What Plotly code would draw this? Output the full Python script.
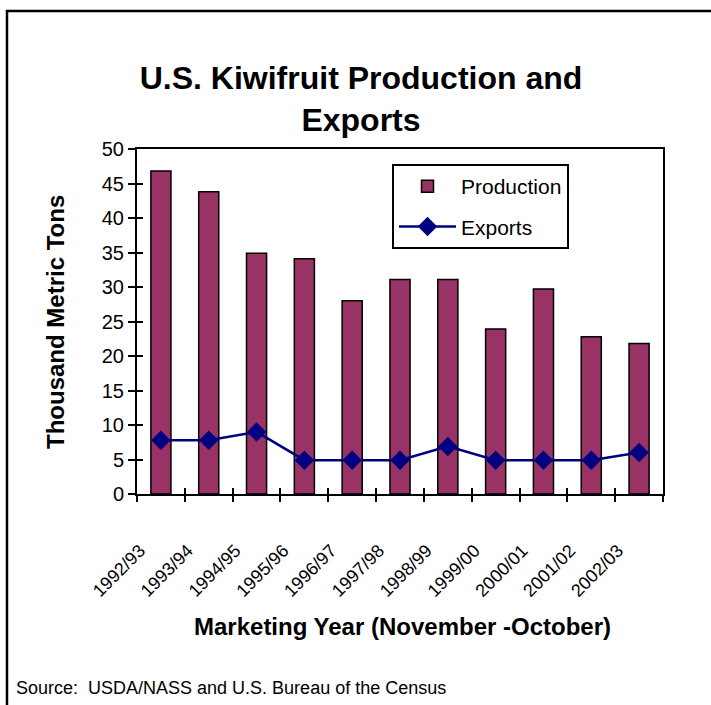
import plotly.graph_objects as go

years = ["1992/93", "1993/94", "1994/95", "1995/96", "1996/97", "1997/98",
         "1998/99", "1999/00", "2000/01", "2001/02", "2002/03"]
production = [46.8, 43.8, 34.9, 34.1, 28.0, 31.1, 31.1, 23.9, 29.7, 22.8, 21.8]
exports = [7.8, 7.8, 9.0, 4.9, 4.9, 4.9, 6.9, 4.9, 4.9, 4.9, 6.0]
y_ticks = [0, 5, 10, 15, 20, 25, 30, 35, 40, 45, 50]

FONT = "Arial, Liberation Sans, sans-serif"
W, H = 711, 705
L, R, T, B = 137, 48, 149, 211
PW, PH = W - L - R, H - T - B


def px(x):
    return (x - L) / PW


def py(y):
    return (H - B - y) / PH


fig = go.Figure()
fig.add_trace(go.Bar(
    x=years, y=production, name="Production",
    marker=dict(color="#993366", line=dict(color="black", width=1.5)),
    legendgroup="a",
))
fig.add_trace(go.Scatter(
    x=years, y=exports, name="Exports", mode="lines+markers",
    line=dict(color="#000080", width=2.5),
    marker=dict(symbol="diamond", size=15, color="#000080"),
    legendgroup="b",
))
# helper (invisible) trace so the overlay axes with inner tick marks get drawn
fig.add_trace(go.Scatter(
    x=years, y=exports, xaxis="x2", yaxis="y2", mode="markers",
    marker=dict(opacity=0), showlegend=False, hoverinfo="skip",
))

fig.update_layout(
    width=W, height=H,
    margin=dict(l=L, r=R, t=T, b=B),
    paper_bgcolor="white", plot_bgcolor="white",
    font=dict(family=FONT, color="black"),
    bargap=0.58,
    showlegend=True,
    title=dict(
        text="U.S. Kiwifruit Production and<br>Exports",
        x=361 / W, xanchor="center",
        y=1 - 89 / H, yanchor="middle",
        font=dict(family=FONT, size=32, weight="bold", color="black"),
    ),
    legend=dict(
        x=px(392), y=py(164), xanchor="left", yanchor="top",
        bgcolor="white", bordercolor="black", borderwidth=2,
        font=dict(family=FONT, size=21, color="black"),
        traceorder="grouped", tracegroupgap=10, itemwidth=57,
    ),
    xaxis=dict(
        type="category", categoryorder="array", categoryarray=years,
        range=[-0.5, len(years) - 0.5],
        showline=True, linecolor="black", linewidth=2, mirror=True,
        ticks="outside", ticklen=6, tickwidth=2, tickcolor="black",
        tickson="boundaries", showgrid=False,
        tickangle=-45, tickfont=dict(family=FONT, size=18, color="black"),
        ticklabelshift=-21, ticklabelstandoff=37,
    ),
    yaxis=dict(
        range=[0, 50], tickvals=y_ticks,
        showline=True, linecolor="black", linewidth=2, mirror=True,
        ticks="outside", ticklen=7, tickwidth=2, tickcolor="black",
        showgrid=False, zeroline=False,
        tickfont=dict(family=FONT, size=20, color="black"),
    ),
    xaxis2=dict(
        overlaying="x", type="category", categoryorder="array",
        categoryarray=years, range=[-0.5, len(years) - 0.5],
        tickson="boundaries", ticks="inside", ticklen=6, tickwidth=2,
        tickcolor="black", showticklabels=False, showgrid=False,
        showline=False, side="bottom",
    ),
    yaxis2=dict(
        overlaying="y", range=[0, 50], tickvals=y_ticks,
        ticks="inside", ticklen=6, tickwidth=2, tickcolor="black",
        showticklabels=False, showgrid=False, zeroline=False,
        showline=False, side="left",
    ),
    shapes=[dict(
        type="rect", xref="paper", yref="paper",
        x0=px(7), x1=1.3, y0=-0.9, y1=py(11),
        line=dict(color="black", width=2.5), fillcolor="rgba(0,0,0,0)",
        layer="below",
    )],
    annotations=[
        dict(text="Marketing Year (November -October)", xref="paper", yref="paper",
             x=px(402), y=py(626), xanchor="center", yanchor="middle",
             showarrow=False, font=dict(family=FONT, size=24, weight="bold")),
        dict(text="Thousand Metric Tons", xref="paper", yref="paper",
             x=px(55), y=py(322), xanchor="center", yanchor="middle",
             textangle=-90, showarrow=False,
             font=dict(family=FONT, size=24, weight="bold")),
        dict(text="Source:  USDA/NASS and U.S. Bureau of the Census",
             xref="paper", yref="paper", x=px(14), y=py(688),
             xanchor="left", yanchor="middle", showarrow=False,
             font=dict(family=FONT, size=18)),
    ],
)

fig.write_html("out.html")
